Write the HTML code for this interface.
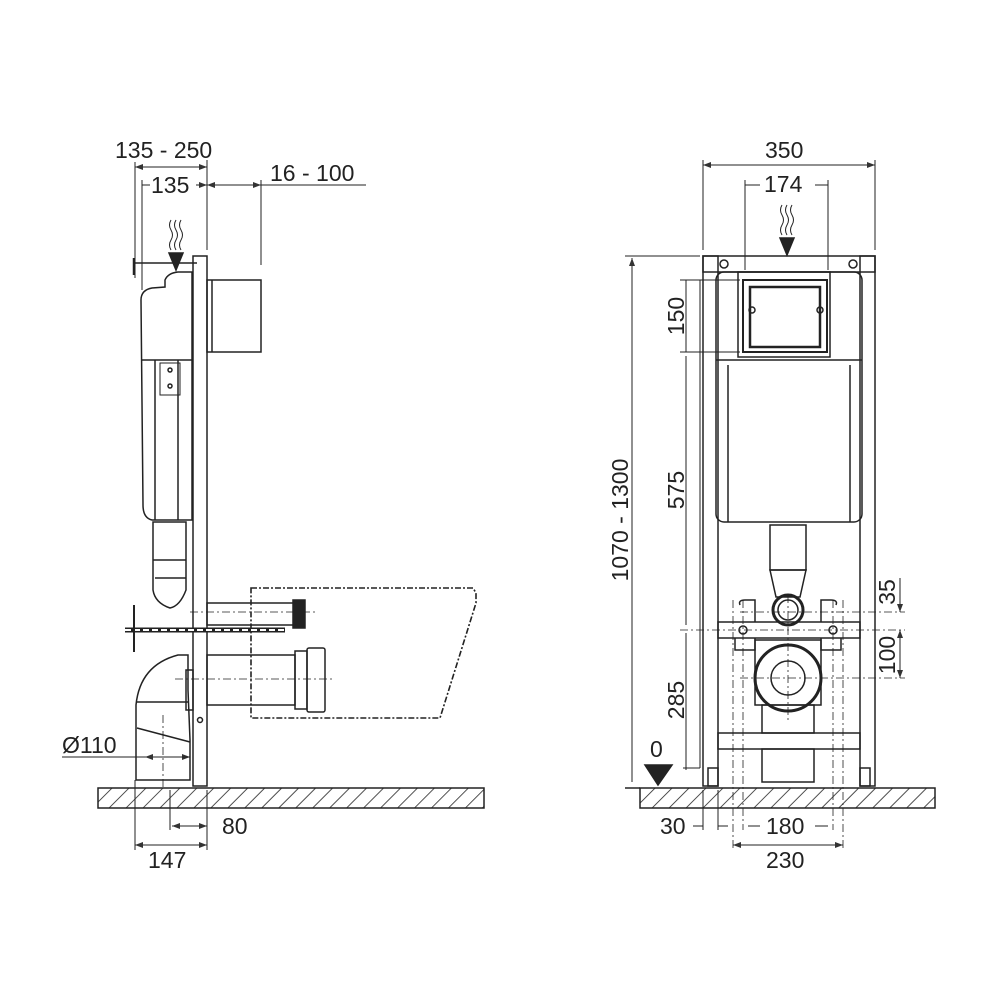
<!DOCTYPE html>
<html><head><meta charset="utf-8"><style>
html,body{margin:0;padding:0;background:#fff;width:1000px;height:1000px;overflow:hidden}
text{font-family:"Liberation Sans",sans-serif;fill:#222;font-size:23px}
</style></head><body>
<svg width="1000" height="1000" viewBox="0 0 1000 1000" xmlns="http://www.w3.org/2000/svg">
<defs>
<pattern id="h" width="12" height="12" patternUnits="userSpaceOnUse" patternTransform="rotate(45)">
<line x1="0" y1="0" x2="0" y2="12" stroke="#222" stroke-width="1.6"/></pattern>
<marker id="a" markerWidth="8" markerHeight="6" refX="8" refY="3" orient="auto-start-reverse"><path d="M0,0L8,3L0,6z" fill="#333"/></marker>
</defs>
<g fill="none" stroke="#222" stroke-width="1.5">
<!-- LEFT VIEW -->
<rect x="98" y="788" width="386" height="20" fill="url(#h)"/>
<!-- dims -->
<g stroke-width="1">
<line x1="135" y1="162" x2="135" y2="278"/><line x1="207" y1="160" x2="207" y2="250"/>
<line x1="135" y1="167" x2="207" y2="167" marker-start="url(#a)" marker-end="url(#a)"/>
<line x1="142" y1="180" x2="142" y2="290"/>
<line x1="142" y1="185" x2="150" y2="185"/><line x1="196" y1="185" x2="207" y2="185" marker-end="url(#a)"/>
<line x1="207" y1="185" x2="261" y2="185" marker-start="url(#a)" marker-end="url(#a)"/>
<line x1="261" y1="185" x2="366" y2="185"/>
<line x1="261" y1="180" x2="261" y2="265"/>
<line x1="135" y1="780" x2="135" y2="850"/><line x1="207" y1="790" x2="207" y2="850"/>
<line x1="170" y1="790" x2="170" y2="830"/>
<line x1="172" y1="826" x2="207" y2="826" marker-start="url(#a)" marker-end="url(#a)"/>
<line x1="135" y1="845" x2="207" y2="845" marker-start="url(#a)" marker-end="url(#a)"/>
<line x1="62" y1="757" x2="190" y2="757" marker-end="url(#a)"/>
<line x1="145" y1="757" x2="190" y2="757" marker-start="url(#a)"/>
</g>
<text x="115" y="158" stroke="none">135 - 250</text>
<text x="151" y="193" stroke="none">135</text>
<text x="270" y="181" stroke="none">16 - 100</text>
<text x="62" y="753" stroke="none">Ø110</text>
<text x="222" y="834" stroke="none">80</text>
<text x="148" y="868" stroke="none">147</text>
<!-- frame -->
<rect x="193" y="256" width="14" height="530"/>
<rect x="207" y="280" width="54" height="72"/><line x1="212" y1="280" x2="212" y2="352"/>
<!-- tank -->
<path d="M141,300 Q141,290 152,288 L165,287 L165,280 Q168,273 178,272 L190,272 L192,272 L192,520 L152,520 Q143,518 143,505 Z"/>
<line x1="141" y1="360" x2="192" y2="360"/><line x1="155" y1="360" x2="155" y2="520"/><line x1="178" y1="360" x2="178" y2="520"/>
<rect x="160" y="363" width="20" height="32" stroke-width="1"/>
<circle cx="170" cy="370" r="2"/><circle cx="170" cy="386" r="2"/>
<line x1="134" y1="263" x2="197" y2="263"/><line x1="134" y1="258" x2="134" y2="275" stroke-width="2.5"/>
<path d="M153,522 L186,522 L186,590 Q180,606 170,608 Q155,603 153,590 Z"/>
<line x1="153" y1="560" x2="186" y2="560"/><line x1="155" y1="578" x2="186" y2="578"/>
<!-- arrow -->
<g stroke-width="1"><path d="M171,220 q-3,5 0,10 q3,5 0,10 q-3,5 0,10"/><path d="M176,220 q-3,5 0,10 q3,5 0,10 q-3,5 0,10"/><path d="M181,220 q-3,5 0,10 q3,5 0,10 q-3,5 0,10"/></g>
<path d="M169,253 L183,253 L176,270 Z" fill="#222"/>
<!-- bowl dashed -->
<path d="M251,588 L473,588 L476,593 L476,603 L440,718 L251,718 Z" stroke-dasharray="6,2,2,2" stroke-width="1.6"/>
<!-- pipes -->
<rect x="207" y="603" width="88" height="22"/><rect x="293" y="600" width="12" height="28" fill="#222"/>
<line x1="125" y1="630" x2="285" y2="630" stroke-width="5"/><line x1="125" y1="630" x2="285" y2="630" stroke="#fff" stroke-width="2" stroke-dasharray="6,3"/>
<line x1="134" y1="605" x2="134" y2="652" stroke-width="2"/>
<rect x="207" y="655" width="88" height="50"/>
<rect x="295" y="651" width="12" height="58"/><rect x="307" y="648" width="18" height="64" rx="2"/>
<line x1="190" y1="612" x2="315" y2="612" stroke-width="0.8" stroke-dasharray="8,3,2,3"/>
<line x1="175" y1="679" x2="335" y2="679" stroke-width="0.8" stroke-dasharray="8,3,2,3"/>
<!-- elbow -->
<path d="M178,655 Q140,665 136,705 L136,780 L190,780 L190,740 L188,690 L188,655 Z"/>
<line x1="136" y1="702" x2="188" y2="702"/><path d="M137,728 L190,742"/>
<line x1="163" y1="715" x2="163" y2="790" stroke-width="0.8" stroke-dasharray="8,3,2,3"/>
<rect x="186" y="670" width="7" height="40"/>
<circle cx="200" cy="720" r="2.5"/>
<!-- RIGHT VIEW -->
<rect x="640" y="788" width="295" height="20" fill="url(#h)"/>
<line x1="625" y1="788" x2="640" y2="788"/>
<rect x="703" y="256" width="15" height="530"/><rect x="860" y="256" width="15" height="530"/>
<rect x="703" y="256" width="172" height="16"/>
<circle cx="724" cy="264" r="4"/><circle cx="853" cy="264" r="4"/>
<rect x="716" y="272" width="146" height="250" rx="8"/>
<line x1="716" y1="360" x2="862" y2="360"/>
<rect x="738" y="272" width="92" height="85"/>
<rect x="743" y="280" width="84" height="72" stroke-width="2"/>
<rect x="750" y="287" width="70" height="60" stroke-width="2.5"/>
<circle cx="752" cy="310" r="3"/><circle cx="820" cy="310" r="3"/>
<line x1="728" y1="365" x2="728" y2="522"/><line x1="850" y1="365" x2="850" y2="522"/>
<rect x="770" y="525" width="36" height="45"/><path d="M770,570 L806,570 L800,597 L776,597 Z"/>
<circle cx="788" cy="610" r="15" stroke-width="3"/><circle cx="788" cy="610" r="10"/>
<path d="M740,605 Q738,600 745,600 L755,600 L755,622 M836,605 Q838,600 831,600 L821,600 L821,622"/>
<rect x="718" y="622" width="142" height="16"/>
<path d="M735,638 L735,650 L755,650 L755,638 M841,638 L841,650 L821,650 L821,638"/>
<circle cx="743" cy="630" r="4"/><circle cx="833" cy="630" r="4"/>
<rect x="755" y="640" width="66" height="65"/>
<circle cx="788" cy="678" r="33" stroke-width="3"/><circle cx="788" cy="678" r="17"/>
<rect x="762" y="705" width="52" height="28"/>
<rect x="718" y="733" width="142" height="16"/>
<rect x="762" y="749" width="52" height="33"/>
<rect x="708" y="768" width="10" height="18"/><rect x="860" y="768" width="10" height="18"/>
<g stroke-width="0.8" stroke-dasharray="8,3,2,3">
<line x1="733" y1="600" x2="733" y2="850"/><line x1="743" y1="600" x2="743" y2="830"/>
<line x1="833" y1="600" x2="833" y2="830"/><line x1="843" y1="600" x2="843" y2="850"/>
<line x1="680" y1="630" x2="905" y2="630"/><line x1="740" y1="612" x2="905" y2="612"/>
<line x1="740" y1="678" x2="905" y2="678"/><line x1="788" y1="595" x2="788" y2="720"/>
</g>
<!-- dims right -->
<g stroke-width="1">
<line x1="703" y1="160" x2="703" y2="250"/><line x1="875" y1="160" x2="875" y2="250"/>
<line x1="703" y1="165" x2="875" y2="165" marker-start="url(#a)" marker-end="url(#a)"/>
<line x1="745" y1="180" x2="745" y2="270"/><line x1="828" y1="180" x2="828" y2="270"/>
<line x1="745" y1="185" x2="760" y2="185"/><line x1="815" y1="185" x2="828" y2="185"/>
<line x1="625" y1="256" x2="700" y2="256"/>
<line x1="632" y1="258" x2="632" y2="782" marker-start="url(#a)"/>
<line x1="680" y1="280" x2="740" y2="280"/><line x1="680" y1="352" x2="740" y2="352"/>
<line x1="686" y1="280" x2="686" y2="352"/><line x1="686" y1="356" x2="686" y2="625"/>
<line x1="686" y1="633" x2="686" y2="770"/><line x1="683" y1="768" x2="700" y2="768"/>
<line x1="700" y1="280" x2="700" y2="768"/>
<line x1="900" y1="578" x2="900" y2="612" marker-end="url(#a)"/>
<line x1="900" y1="630" x2="900" y2="678" marker-start="url(#a)" marker-end="url(#a)"/>
<line x1="703" y1="790" x2="703" y2="830"/><line x1="718" y1="790" x2="718" y2="830"/>
<line x1="693" y1="826" x2="703" y2="826"/><line x1="718" y1="826" x2="728" y2="826"/>
<line x1="748" y1="826" x2="760" y2="826"/><line x1="815" y1="826" x2="828" y2="826"/>
<line x1="733" y1="845" x2="843" y2="845" marker-start="url(#a)" marker-end="url(#a)"/>
</g>
<text x="765" y="158" stroke="none">350</text>
<text x="764" y="192" stroke="none">174</text>
<g stroke-width="1"><path d="M782,205 q-3,5 0,10 q3,5 0,10 q-3,5 0,10"/><path d="M787,205 q-3,5 0,10 q3,5 0,10 q-3,5 0,10"/><path d="M792,205 q-3,5 0,10 q3,5 0,10 q-3,5 0,10"/></g>
<path d="M780,238 L794,238 L787,255 Z" fill="#222"/>
<text transform="translate(628,520) rotate(-90)" text-anchor="middle" stroke="none">1070 - 1300</text>
<text transform="translate(684,316) rotate(-90)" text-anchor="middle" stroke="none">150</text>
<text transform="translate(684,490) rotate(-90)" text-anchor="middle" stroke="none">575</text>
<text transform="translate(684,700) rotate(-90)" text-anchor="middle" stroke="none">285</text>
<text transform="translate(895,592) rotate(-90)" text-anchor="middle" stroke="none">35</text>
<text transform="translate(895,655) rotate(-90)" text-anchor="middle" stroke="none">100</text>
<text x="650" y="757" stroke="none">0</text>
<path d="M645,765 L672,765 L658,785 Z" fill="#222"/>
<text x="660" y="834" stroke="none">30</text>
<text x="766" y="834" stroke="none">180</text>
<text x="766" y="868" stroke="none">230</text>
</g>
</svg>
</body></html>
